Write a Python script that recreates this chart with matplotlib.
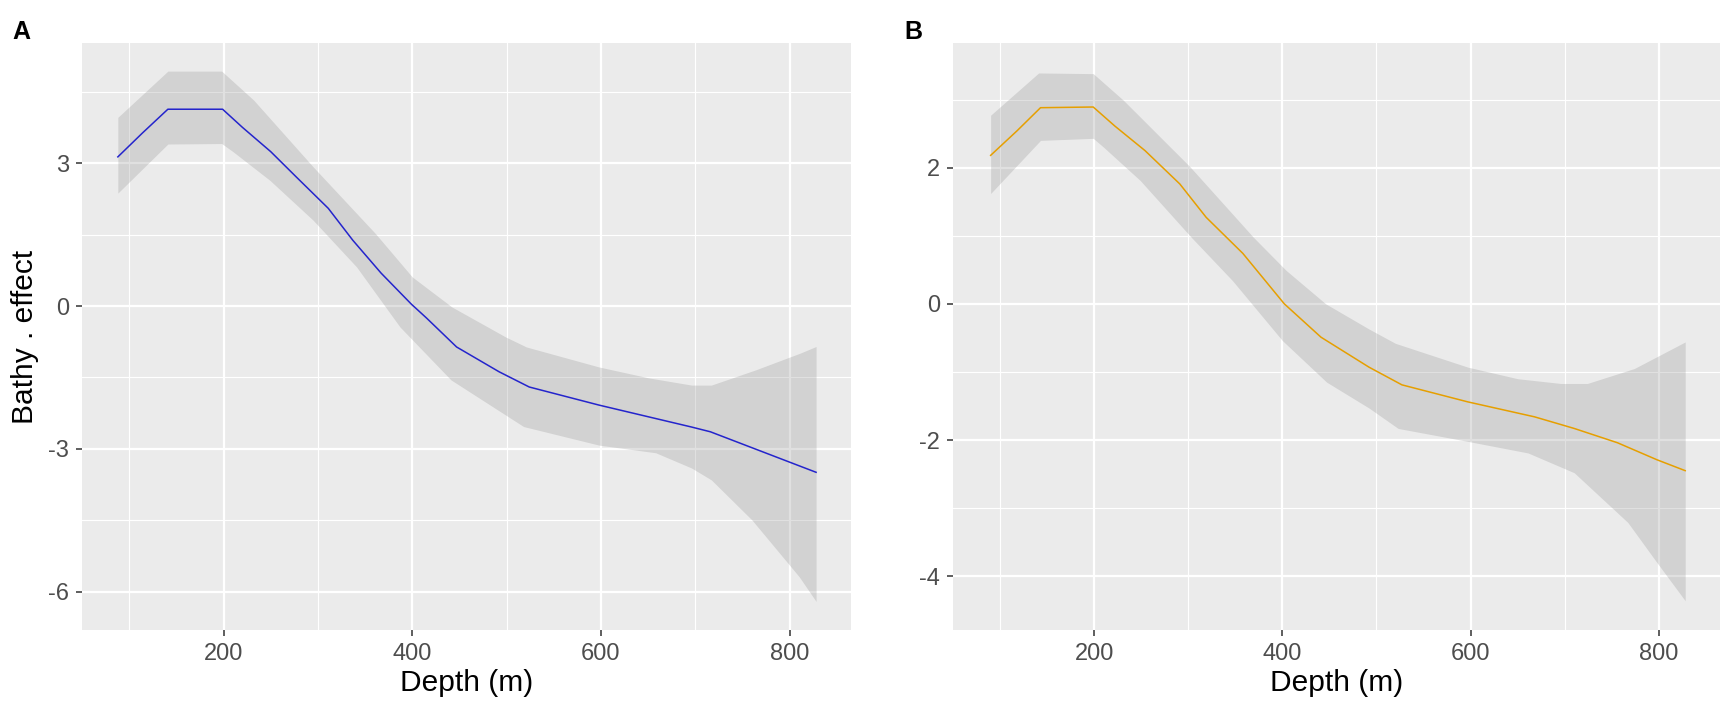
import matplotlib
matplotlib.use("Agg")
import matplotlib.pyplot as plt
from matplotlib.ticker import MultipleLocator
import numpy as np

plt.rcParams['font.family'] = ['Liberation Sans', 'DejaVu Sans']
plt.rcParams['axes.unicode_minus'] = False

# ---------------- Data ----------------
# Panel A (blue)
a_x = [88, 114, 141, 199, 220, 250, 277, 311, 337, 367, 399, 415, 447, 492, 524, 598, 696, 716, 799, 828]
a_y = [3.13, 3.63, 4.13, 4.13, 3.75, 3.24, 2.71, 2.05, 1.38, 0.69, 0.04, -0.25, -0.86, -1.38, -1.70, -2.08, -2.54, -2.64, -3.27, -3.49]
a_up_x = [88, 141, 198, 232, 295, 361, 400, 442, 499, 521, 598, 651, 696, 717, 764, 811, 828]
a_up_y = [3.96, 4.93, 4.93, 4.32, 2.92, 1.52, 0.61, -0.02, -0.65, -0.86, -1.28, -1.51, -1.66, -1.66, -1.34, -0.99, -0.85]
a_lo_x = [88, 141, 198, 210, 249, 295, 341, 387, 441, 518, 598, 658, 696, 717, 760, 810, 828]
a_lo_y = [2.37, 3.40, 3.41, 3.24, 2.64, 1.80, 0.82, -0.44, -1.55, -2.53, -2.92, -3.08, -3.40, -3.65, -4.49, -5.68, -6.20]

# Panel B (orange)
b_x = [90, 118, 143, 199, 222, 254, 291, 319, 358, 402, 441, 492, 527, 597, 668, 710, 756, 798, 828]
b_y = [2.18, 2.54, 2.88, 2.89, 2.61, 2.25, 1.76, 1.27, 0.74, 0.00, -0.49, -0.93, -1.19, -1.44, -1.66, -1.83, -2.04, -2.29, -2.45]
b_up_x = [90, 141, 199, 231, 302, 369, 404, 446, 492, 520, 597, 650, 696, 724, 774, 828]
b_up_y = [2.77, 3.39, 3.38, 2.99, 2.01, 0.98, 0.49, 0.00, -0.37, -0.58, -0.93, -1.10, -1.17, -1.17, -0.95, -0.56]
b_lo_x = [90, 143, 199, 210, 249, 303, 347, 400, 447, 492, 523, 597, 661, 710, 767, 798, 828]
b_lo_y = [1.62, 2.40, 2.43, 2.30, 1.81, 0.98, 0.34, -0.54, -1.15, -1.53, -1.83, -2.02, -2.19, -2.48, -3.21, -3.80, -4.36]

x_ticks = [200, 400, 600, 800]
a_yticks = [3, 0, -3, -6]
b_yticks = [2, 0, -2, -4]

xlabel = "Depth (m)"
ylabel = "Bathy . effect"


def band_edges(ux, uy, lx, ly):
    grid = np.union1d(ux, lx)
    return grid, np.interp(grid, ux, uy), np.interp(grid, lx, ly)


W, H = 1728, 713
fig = plt.figure(figsize=(W / 100, H / 100), dpi=100)
fig.patch.set_facecolor('white')

bottom = 1 - 630 / H
height = 587 / H
axA = fig.add_axes([82 / W, bottom, 769 / W, height])
axB = fig.add_axes([953 / W, bottom, 767 / W, height])


def style(ax, ylim, yticks, yminor):
    ax.set_facecolor('#EBEBEB')
    for s in ax.spines.values():
        s.set_visible(False)
    ax.set_xlim(50, 865)
    ax.set_ylim(*ylim)
    ax.set_xticks(x_ticks)
    ax.set_yticks(yticks)
    ax.xaxis.set_minor_locator(MultipleLocator(100))
    ax.yaxis.set_minor_locator(MultipleLocator(yminor))
    ax.set_axisbelow(True)
    ax.grid(True, which='major', color='white', linewidth=1.6)
    ax.grid(True, which='minor', color='white', linewidth=0.8)
    ax.tick_params(which='major', length=4.5, width=1.1, color='#333333',
                   labelsize=17, labelcolor='#4D4D4D', pad=5)
    ax.tick_params(which='minor', length=0)
    ax.set_xlabel(xlabel, fontsize=21.5, color='black', labelpad=3)


style(axA, (-6.80, 5.52), a_yticks, 1.5)
style(axB, (-4.79, 3.83), b_yticks, 1.0)

gA, uA, lA = band_edges(a_up_x, a_up_y, a_lo_x, a_lo_y)
axA.fill_between(gA, lA, uA, color='#999999', alpha=0.3, linewidth=0, zorder=2)
axA.plot(a_x, a_y, color='#2424CC', linewidth=1.1, zorder=3)

gB, uB, lB = band_edges(b_up_x, b_up_y, b_lo_x, b_lo_y)
axB.fill_between(gB, lB, uB, color='#999999', alpha=0.3, linewidth=0, zorder=2)
axB.plot(b_x, b_y, color='#E69F00', linewidth=1.1, zorder=3)

axA.set_ylabel(ylabel, fontsize=21.5, color='black', labelpad=6)

fig.text(12 / W, 1 - 39 / H, "A", fontsize=18, fontweight='bold', ha='left', va='baseline')
fig.text(904 / W, 1 - 39 / H, "B", fontsize=18, fontweight='bold', ha='left', va='baseline')

fig.savefig("out.png", dpi=100)
